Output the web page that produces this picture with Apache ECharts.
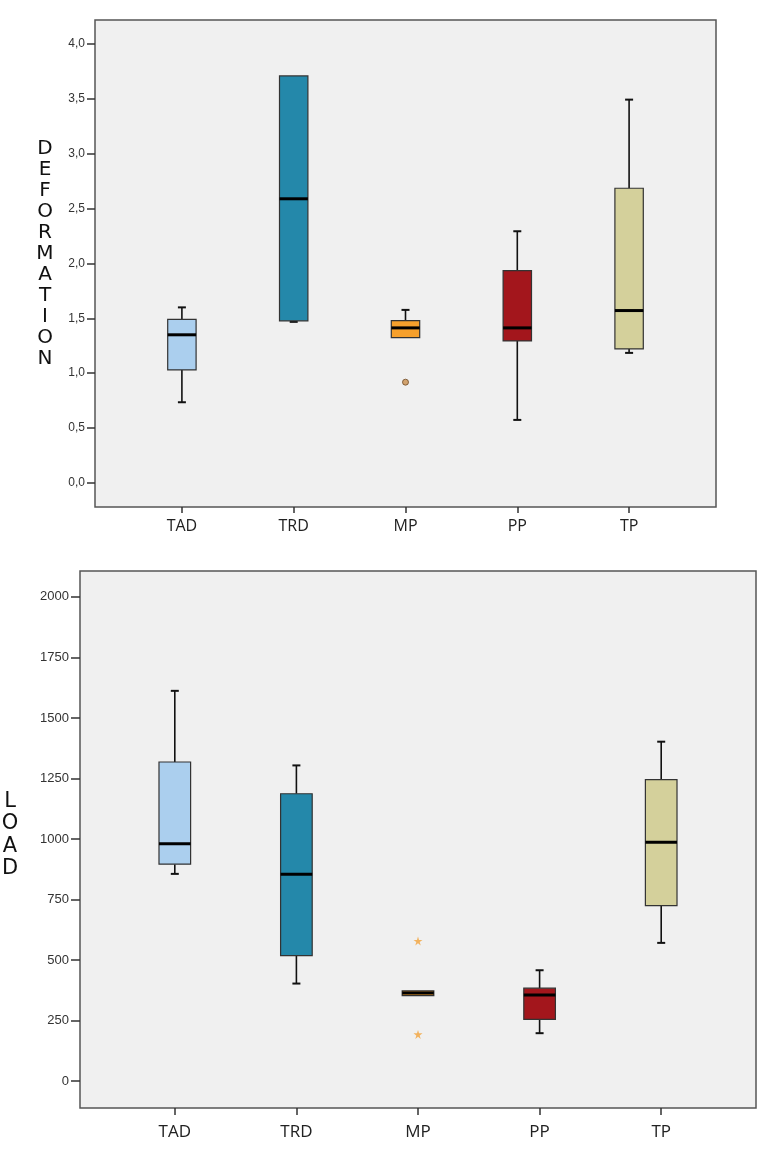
<!DOCTYPE html>
<html>
<head>
<meta charset="utf-8">
<script src="https://cdn.jsdelivr.net/npm/echarts@6/dist/echarts.min.js"></script>
<style>
html,body{margin:0;padding:0;background:#fff;}
#chart{width:770px;height:1151px;}
</style>
</head>
<body>
<div id="chart"></div>
<script>
// ---- data ----
const categories = ['TAD', 'TRD', 'MP', 'PP', 'TP'];
// [min, Q1, median, Q3, max]
const deformationStats = [
  [0.735, 1.03, 1.35, 1.49, 1.60],
  [1.468, 1.477, 2.59, 3.71, 3.71],
  [1.325, 1.325, 1.413, 1.48, 1.577],
  [0.574, 1.294, 1.413, 1.935, 2.294],
  [1.185, 1.221, 1.571, 2.686, 3.494]
];
const deformationOutliers = [['MP', 0.918]];
const loadStats = [
  [856, 896, 980, 1318, 1612],
  [403, 518, 854, 1187, 1304],
  [353, 353, 364, 373, 373],
  [198, 255, 356, 384, 458],
  [571, 725, 987, 1245, 1402]
];
const loadOutliers = [['MP', 579], ['MP', 193]];
const deformationTicks = [0, 0.5, 1, 1.5, 2, 2.5, 3, 3.5, 4];
const loadTicks = [0, 250, 500, 750, 1000, 1250, 1500, 1750, 2000];
const boxColors = ['#abcfee', '#2488aa', '#f6a02c', '#a3161c', '#d4d09b'];

// ---- chart ----
const chart = echarts.init(document.getElementById('chart'), null, {renderer: 'canvas'});
const starPath = 'path://M50,0 L61,35 L98,35 L68,57 L79,91 L50,70 L21,91 L32,57 L2,35 L39,35 Z';

function boxRender(ratio) {
  return function (params, api) {
    const cat = api.value(0);
    const mn = api.value(1), q1 = api.value(2), md = api.value(3), q3 = api.value(4), mx = api.value(5);
    const cx = api.coord([cat, md])[0];
    const bw = api.size([1, 0])[0] * ratio;
    const y = v => api.coord([cat, v])[1];
    const cap = 4;
    const lineStyle = {stroke: '#111', lineWidth: 1.6};
    const children = [];
    if (mx > q3) {
      children.push({type: 'line', shape: {x1: cx, y1: y(q3), x2: cx, y2: y(mx)}, style: lineStyle});
      children.push({type: 'line', shape: {x1: cx - cap, y1: y(mx), x2: cx + cap, y2: y(mx)}, style: {stroke: '#111', lineWidth: 2}});
    }
    if (mn < q1) {
      children.push({type: 'line', shape: {x1: cx, y1: y(q1), x2: cx, y2: y(mn)}, style: lineStyle});
      children.push({type: 'line', shape: {x1: cx - cap, y1: y(mn), x2: cx + cap, y2: y(mn)}, style: {stroke: '#111', lineWidth: 2}});
    }
    children.push({
      type: 'rect',
      shape: {x: cx - bw / 2, y: y(q3), width: bw, height: y(q1) - y(q3)},
      style: {fill: boxColors[params.dataIndex], stroke: '#333', lineWidth: 1.2}
    });
    children.push({type: 'line', shape: {x1: cx - bw / 2, y1: y(md), x2: cx + bw / 2, y2: y(md)}, style: {stroke: '#000', lineWidth: 3}});
    return {type: 'group', children: children};
  };
}

const defData = categories.map((c, i) => [c].concat(deformationStats[i]));
const loadData = categories.map((c, i) => [c].concat(loadStats[i]));

const tickLabel = {fontFamily: 'Liberation Sans', fontSize: 12, color: '#333'};

const option = {
  animation: false,
  backgroundColor: '#ffffff',
  grid: [
    {left: 126, top: 20, width: 559, height: 487},
    {left: 114, top: 571, width: 608, height: 537},
    {left: 95, top: 20, width: 621, height: 487, show: true, backgroundColor: '#f0f0f0', borderColor: '#555', borderWidth: 1.5, z: 0},
    {left: 80, top: 571, width: 676, height: 537, show: true, backgroundColor: '#f0f0f0', borderColor: '#555', borderWidth: 1.5, z: 0}
  ],
  xAxis: [
    {type: 'category', gridIndex: 0, data: categories, boundaryGap: true, position: 'bottom',
     axisLine: {show: false, onZero: false},
     axisTick: {show: true, alignWithLabel: true, length: 6, lineStyle: {color: '#333', width: 1.5}},
     axisLabel: {margin: 11, fontFamily: 'Open Sans', fontSize: 16, color: '#222'},
     splitLine: {show: false}},
    {type: 'category', gridIndex: 1, data: categories, boundaryGap: true, position: 'bottom',
     axisLine: {show: false, onZero: false},
     axisTick: {show: true, alignWithLabel: true, length: 7, lineStyle: {color: '#333', width: 1.5}},
     axisLabel: {margin: 16, fontFamily: 'Open Sans', fontSize: 17, color: '#222'},
     splitLine: {show: false}},
    {type: 'value', gridIndex: 2, show: false},
    {type: 'value', gridIndex: 3, show: false}
  ],
  yAxis: [
    {type: 'value', gridIndex: 0, min: -0.22, max: 4.22, offset: 31,
     axisLine: {show: false, onZero: false},
     axisTick: {show: true, length: 8, customValues: deformationTicks, lineStyle: {color: '#333', width: 1.5}},
     axisLabel: Object.assign({margin: 10, customValues: deformationTicks,
       formatter: v => v.toFixed(1).replace('.', ',')}, tickLabel),
     splitLine: {show: false}},
    {type: 'value', gridIndex: 1, min: -111, max: 2107, offset: 34,
     axisLine: {show: false, onZero: false},
     axisTick: {show: true, length: 9, customValues: loadTicks, lineStyle: {color: '#333', width: 1.5}},
     axisLabel: Object.assign({margin: 11, customValues: loadTicks, formatter: v => String(v)}, tickLabel, {fontSize: 13}),
     splitLine: {show: false}},
    {type: 'value', gridIndex: 2, show: false},
    {type: 'value', gridIndex: 3, show: false}
  ],
  graphic: [
    {type: 'text', x: 45, y: 254, z: 10,
     style: {text: 'D\nE\nF\nO\nR\nM\nA\nT\nI\nO\nN', fontFamily: 'DejaVu Sans', fontSize: 20, lineHeight: 21,
             align: 'center', verticalAlign: 'middle', fill: '#111'}},
    {type: 'text', x: 10, y: 835, z: 10,
     style: {text: 'L\nO\nA\nD', fontFamily: 'DejaVu Sans', fontSize: 21, lineHeight: 22.5,
             align: 'center', verticalAlign: 'middle', fill: '#111'}}
  ],
  series: [
    {type: 'custom', xAxisIndex: 0, yAxisIndex: 0, renderItem: boxRender(0.254),
     encode: {x: 0, y: [1, 2, 3, 4, 5]}, data: defData, z: 3},
    {type: 'scatter', xAxisIndex: 0, yAxisIndex: 0, data: deformationOutliers, symbol: 'circle', symbolSize: 6,
     itemStyle: {color: '#c98e4e', borderColor: '#6e4a25', borderWidth: 1}, z: 4},
    {type: 'custom', xAxisIndex: 1, yAxisIndex: 1, renderItem: boxRender(0.26),
     encode: {x: 0, y: [1, 2, 3, 4, 5]}, data: loadData, z: 3},
    {type: 'scatter', xAxisIndex: 1, yAxisIndex: 1, data: loadOutliers, symbol: starPath, symbolSize: 9,
     itemStyle: {color: '#f2a33a'}, z: 4}
  ]
};
chart.setOption(option);
</script>
</body>
</html>
